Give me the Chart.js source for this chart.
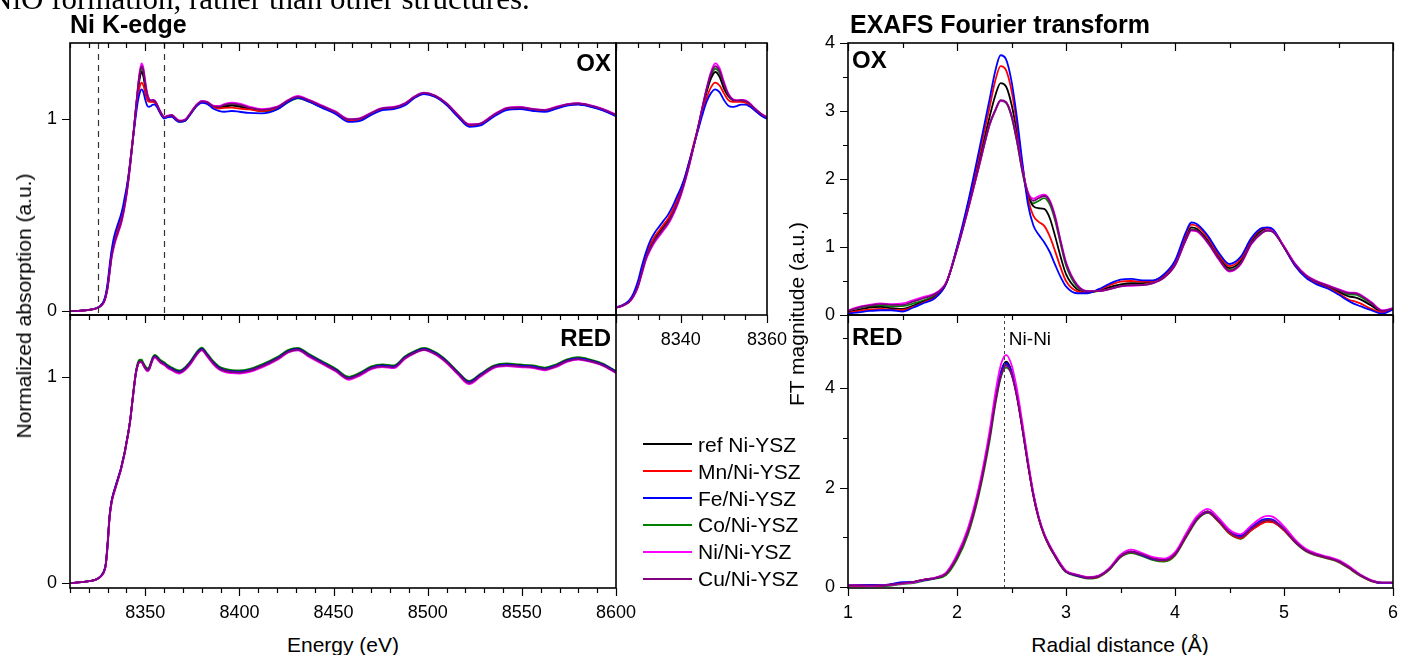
<!DOCTYPE html>
<html>
<head>
<meta charset="utf-8">
<title>Ni K-edge XANES and EXAFS Fourier transform</title>
<script src="https://cdn.jsdelivr.net/npm/chart.js@4.4.1/dist/chart.umd.min.js"></script>
<style>
html,body{margin:0;padding:0;background:#fff;}
body{position:relative;width:1401px;height:655px;overflow:hidden;font-family:"Liberation Sans",Arial,sans-serif;color:#000;}
canvas{position:absolute;}
.txt{position:absolute;white-space:nowrap;line-height:0;color:#000;}
</style>
</head>
<body>
<script>
// ---------------- DATA ----------------
const seriesNames  = ['ref Ni-YSZ', 'Mn/Ni-YSZ', 'Fe/Ni-YSZ', 'Co/Ni-YSZ', 'Ni/Ni-YSZ', 'Cu/Ni-YSZ'];
const seriesColors = ['#000000', '#ff0000', '#0000ff', '#008000', '#ff00ff', '#800080'];
const drawOrder    = [4, 3, 2, 5, 1, 0];

// XANES energy grid (eV)
const energy = [
  8310, 8316, 8321, 8324, 8326, 8327, 8328, 8329, 8330, 8331,
  8332, 8333, 8334, 8335, 8336, 8337, 8338, 8339, 8340, 8341,
  8342, 8343, 8344, 8345, 8346, 8347, 8348, 8349, 8350, 8351,
  8352, 8353, 8354, 8355, 8356, 8357, 8358, 8359, 8360,
  8362, 8364, 8366, 8368, 8371, 8374, 8377, 8380, 8383, 8386,
  8389, 8392, 8396, 8400, 8405, 8412, 8420, 8426, 8431, 8437,
  8444, 8451, 8458, 8464, 8470, 8476, 8482, 8488, 8493, 8498,
  8504, 8510, 8516, 8522, 8528, 8535, 8542, 8549, 8556, 8562,
  8568, 8574, 8580, 8586, 8593, 8600
];

// OX XANES
const xanesOxRef = [
  0.000, 0.003, 0.008, 0.015, 0.025, 0.035, 0.05, 0.08, 0.13, 0.21,
  0.29, 0.34, 0.38, 0.41, 0.44, 0.47, 0.51, 0.56, 0.62, 0.69,
  0.77, 0.86, 0.95, 1.05, 1.14, 1.21, 1.245, 1.22, 1.16, 1.12,
  1.10, 1.095, 1.095, 1.09, 1.075, 1.055, 1.035, 1.02, 1.01,
  1.015, 1.02, 1.005, 0.99, 0.995, 1.03, 1.07, 1.09, 1.085, 1.065,
  1.06, 1.065, 1.07, 1.065, 1.055, 1.045, 1.06, 1.095, 1.115, 1.095,
  1.065, 1.035, 0.997, 1.0, 1.03, 1.055, 1.06, 1.08, 1.115, 1.135,
  1.12, 1.08, 1.02, 0.97, 0.975, 1.02, 1.055, 1.06, 1.05, 1.045,
  1.06, 1.075, 1.08, 1.07, 1.05, 1.02
];
const xanesOxMn = [
  0.000, 0.003, 0.008, 0.015, 0.025, 0.035, 0.05, 0.08, 0.135, 0.215,
  0.30, 0.35, 0.39, 0.42, 0.45, 0.48, 0.52, 0.57, 0.63, 0.70,
  0.78, 0.87, 0.95, 1.04, 1.11, 1.165, 1.19, 1.175, 1.135, 1.10,
  1.09, 1.09, 1.09, 1.085, 1.07, 1.05, 1.03, 1.015, 1.007,
  1.013, 1.018, 1.003, 0.99, 0.993, 1.028, 1.068, 1.09, 1.083, 1.062,
  1.055, 1.058, 1.06, 1.055, 1.05, 1.042, 1.058, 1.095, 1.112, 1.093,
  1.062, 1.032, 0.993, 0.998, 1.028, 1.053, 1.058, 1.078, 1.113, 1.133,
  1.118, 1.078, 1.018, 0.967, 0.973, 1.018, 1.053, 1.058, 1.048, 1.043,
  1.058, 1.073, 1.078, 1.068, 1.048, 1.018
];
const xanesOxFe = [
  0.000, 0.003, 0.008, 0.016, 0.027, 0.038, 0.055, 0.09, 0.15, 0.235,
  0.31, 0.37, 0.41, 0.44, 0.47, 0.50, 0.54, 0.59, 0.64, 0.70,
  0.78, 0.86, 0.94, 1.02, 1.09, 1.135, 1.155, 1.14, 1.10, 1.07,
  1.063, 1.068, 1.075, 1.075, 1.065, 1.048, 1.03, 1.013, 1.003,
  1.01, 1.012, 0.997, 0.985, 0.99, 1.025, 1.065, 1.085, 1.078, 1.055,
  1.043, 1.038, 1.042, 1.038, 1.032, 1.03, 1.05, 1.09, 1.11, 1.09,
  1.058, 1.027, 0.985, 0.99, 1.022, 1.047, 1.052, 1.072, 1.11, 1.13,
  1.115, 1.073, 1.012, 0.96, 0.967, 1.012, 1.047, 1.052, 1.042, 1.037,
  1.053, 1.07, 1.075, 1.065, 1.045, 1.015
];
const xanesOxCo = [
  0.000, 0.003, 0.008, 0.015, 0.025, 0.034, 0.048, 0.078, 0.127, 0.205,
  0.285, 0.335, 0.375, 0.405, 0.435, 0.465, 0.505, 0.555, 0.615, 0.685,
  0.77, 0.86, 0.955, 1.055, 1.15, 1.225, 1.262, 1.24, 1.175, 1.125,
  1.10, 1.095, 1.098, 1.092, 1.078, 1.057, 1.037, 1.02, 1.008,
  1.012, 1.017, 1.0, 0.985, 0.99, 1.027, 1.068, 1.09, 1.085, 1.068,
  1.063, 1.07, 1.075, 1.07, 1.055, 1.04, 1.052, 1.088, 1.108, 1.09,
  1.06, 1.03, 0.993, 0.997, 1.027, 1.053, 1.058, 1.078, 1.112, 1.132,
  1.117, 1.077, 1.017, 0.968, 0.973, 1.018, 1.053, 1.058, 1.048, 1.043,
  1.058, 1.073, 1.078, 1.068, 1.048, 1.018
];
const xanesOxNi = [
  0.000, 0.003, 0.008, 0.015, 0.024, 0.033, 0.046, 0.074, 0.12, 0.195,
  0.27, 0.32, 0.36, 0.39, 0.42, 0.45, 0.49, 0.54, 0.60, 0.675,
  0.76, 0.855, 0.955, 1.06, 1.16, 1.245, 1.29, 1.265, 1.195, 1.135,
  1.105, 1.098, 1.1, 1.097, 1.082, 1.06, 1.04, 1.023, 1.012,
  1.018, 1.022, 1.007, 0.993, 0.998, 1.033, 1.073, 1.095, 1.09, 1.07,
  1.068, 1.078, 1.085, 1.08, 1.065, 1.052, 1.065, 1.1, 1.12, 1.1,
  1.07, 1.04, 1.0, 1.005, 1.033, 1.058, 1.063, 1.083, 1.118, 1.138,
  1.123, 1.083, 1.023, 0.973, 0.978, 1.023, 1.058, 1.063, 1.053, 1.048,
  1.063, 1.078, 1.083, 1.073, 1.053, 1.023
];
const xanesOxCu = [
  0.000, 0.003, 0.008, 0.015, 0.024, 0.034, 0.047, 0.076, 0.123, 0.2,
  0.278, 0.328, 0.368, 0.398, 0.428, 0.458, 0.498, 0.548, 0.608, 0.68,
  0.765, 0.857, 0.955, 1.058, 1.155, 1.235, 1.275, 1.252, 1.185, 1.13,
  1.102, 1.096, 1.098, 1.094, 1.08, 1.058, 1.038, 1.021, 1.01,
  1.016, 1.02, 1.005, 0.99, 0.995, 1.03, 1.07, 1.092, 1.087, 1.068,
  1.064, 1.074, 1.08, 1.075, 1.06, 1.048, 1.062, 1.098, 1.117, 1.097,
  1.067, 1.037, 0.998, 1.002, 1.031, 1.056, 1.061, 1.081, 1.116, 1.136,
  1.121, 1.081, 1.021, 0.971, 0.976, 1.021, 1.056, 1.061, 1.051, 1.046,
  1.061, 1.076, 1.081, 1.071, 1.051, 1.021
];

// RED XANES
const xanesRedRef = [
  0.000, 0.004, 0.010, 0.018, 0.030, 0.040, 0.055, 0.09, 0.19, 0.32,
  0.39, 0.43, 0.46, 0.49, 0.52, 0.55, 0.59, 0.63, 0.68, 0.73,
  0.79, 0.87, 0.95, 1.02, 1.06, 1.075, 1.075, 1.06, 1.045, 1.035,
  1.04, 1.065, 1.09, 1.10, 1.095, 1.085, 1.075, 1.07, 1.065,
  1.05, 1.04, 1.03, 1.025, 1.04, 1.07, 1.11, 1.135, 1.105, 1.07,
  1.045, 1.033, 1.027, 1.025, 1.032, 1.055, 1.09, 1.125, 1.135, 1.105,
  1.07, 1.035, 0.995, 1.015, 1.045, 1.055, 1.05, 1.095, 1.12, 1.135,
  1.115, 1.075, 1.02, 0.975, 1.01, 1.05, 1.06, 1.055, 1.05, 1.04,
  1.055, 1.08, 1.09, 1.08, 1.06, 1.025
];
const xanesRedMn = [
  0.000, 0.004, 0.010, 0.018, 0.030, 0.040, 0.056, 0.092, 0.195, 0.322,
  0.392, 0.432, 0.462, 0.492, 0.522, 0.552, 0.592, 0.632, 0.682, 0.732,
  0.792, 0.872, 0.952, 1.02, 1.058, 1.072, 1.072, 1.058, 1.043, 1.033,
  1.038, 1.063, 1.088, 1.098, 1.093, 1.083, 1.073, 1.068, 1.063,
  1.048, 1.038, 1.028, 1.023, 1.038, 1.068, 1.108, 1.132, 1.103, 1.068,
  1.043, 1.031, 1.025, 1.023, 1.03, 1.053, 1.088, 1.123, 1.133, 1.103,
  1.068, 1.033, 0.993, 1.013, 1.043, 1.053, 1.048, 1.093, 1.118, 1.133,
  1.113, 1.073, 1.018, 0.973, 1.008, 1.048, 1.058, 1.053, 1.048, 1.038,
  1.053, 1.078, 1.088, 1.078, 1.058, 1.023
];
const xanesRedFe = [
  0.000, 0.004, 0.010, 0.018, 0.031, 0.042, 0.058, 0.095, 0.2, 0.325,
  0.395, 0.435, 0.465, 0.495, 0.525, 0.555, 0.594, 0.634, 0.683, 0.733,
  0.792, 0.87, 0.948, 1.018, 1.058, 1.073, 1.073, 1.058, 1.043, 1.034,
  1.04, 1.064, 1.089, 1.099, 1.094, 1.084, 1.074, 1.069, 1.064,
  1.049, 1.039, 1.029, 1.024, 1.039, 1.069, 1.109, 1.134, 1.104, 1.069,
  1.044, 1.032, 1.026, 1.024, 1.031, 1.054, 1.089, 1.124, 1.134, 1.104,
  1.069, 1.034, 0.994, 1.014, 1.044, 1.054, 1.049, 1.094, 1.119, 1.134,
  1.114, 1.074, 1.019, 0.974, 1.009, 1.049, 1.059, 1.054, 1.049, 1.039,
  1.054, 1.079, 1.089, 1.079, 1.059, 1.024
];
const xanesRedCo = [
  0.000, 0.004, 0.010, 0.018, 0.030, 0.040, 0.055, 0.088, 0.188, 0.318,
  0.39, 0.43, 0.46, 0.49, 0.52, 0.552, 0.592, 0.633, 0.683, 0.734,
  0.795, 0.876, 0.956, 1.027, 1.068, 1.083, 1.083, 1.068, 1.052, 1.042,
  1.047, 1.072, 1.097, 1.107, 1.102, 1.092, 1.082, 1.077, 1.071,
  1.056, 1.046, 1.036, 1.031, 1.046, 1.077, 1.117, 1.142, 1.112, 1.077,
  1.052, 1.04, 1.033, 1.031, 1.038, 1.061, 1.096, 1.131, 1.141, 1.111,
  1.076, 1.041, 1.001, 1.021, 1.051, 1.061, 1.056, 1.1, 1.125, 1.14,
  1.12, 1.08, 1.025, 0.98, 1.015, 1.055, 1.065, 1.06, 1.055, 1.045,
  1.06, 1.085, 1.095, 1.085, 1.064, 1.028
];
const xanesRedNi = [
  0.000, 0.004, 0.010, 0.017, 0.028, 0.038, 0.052, 0.085, 0.18, 0.31,
  0.382, 0.423, 0.454, 0.485, 0.515, 0.546, 0.586, 0.626, 0.676, 0.727,
  0.787, 0.866, 0.946, 1.015, 1.055, 1.07, 1.07, 1.055, 1.038, 1.027,
  1.033, 1.058, 1.083, 1.093, 1.088, 1.078, 1.068, 1.062, 1.057,
  1.042, 1.032, 1.022, 1.016, 1.032, 1.062, 1.102, 1.128, 1.097, 1.062,
  1.037, 1.024, 1.018, 1.016, 1.023, 1.046, 1.082, 1.118, 1.128, 1.097,
  1.062, 1.027, 0.986, 1.006, 1.037, 1.047, 1.042, 1.088, 1.114, 1.13,
  1.108, 1.067, 1.012, 0.965, 1.0, 1.042, 1.052, 1.047, 1.042, 1.032,
  1.047, 1.073, 1.084, 1.074, 1.054, 1.018
];
const xanesRedCu = [
  0.000, 0.004, 0.010, 0.018, 0.029, 0.039, 0.054, 0.088, 0.186, 0.316,
  0.387, 0.428, 0.458, 0.488, 0.518, 0.549, 0.589, 0.629, 0.679, 0.729,
  0.79, 0.869, 0.949, 1.018, 1.058, 1.073, 1.073, 1.058, 1.042, 1.031,
  1.037, 1.062, 1.087, 1.097, 1.092, 1.082, 1.072, 1.066, 1.061,
  1.046, 1.036, 1.026, 1.021, 1.036, 1.066, 1.106, 1.131, 1.101, 1.066,
  1.041, 1.029, 1.023, 1.021, 1.028, 1.051, 1.086, 1.121, 1.131, 1.101,
  1.066, 1.031, 0.991, 1.011, 1.041, 1.051, 1.046, 1.091, 1.116, 1.131,
  1.111, 1.071, 1.016, 0.97, 1.005, 1.046, 1.056, 1.051, 1.046, 1.036,
  1.051, 1.076, 1.086, 1.076, 1.056, 1.021
];

// EXAFS radial grid (Angstrom)
const radial = [
  1.0, 1.1, 1.2, 1.3, 1.4, 1.5, 1.6, 1.7, 1.8, 1.9,
  2.0, 2.1, 2.2, 2.3, 2.35, 2.4, 2.45, 2.5, 2.55, 2.6,
  2.65, 2.7, 2.75, 2.8, 2.85, 2.9, 2.95, 3.0, 3.1, 3.2,
  3.3, 3.4, 3.5, 3.6, 3.7, 3.8, 3.9, 4.0, 4.1, 4.15,
  4.2, 4.3, 4.4, 4.5, 4.6, 4.7, 4.8, 4.85, 4.9, 5.0,
  5.1, 5.2, 5.3, 5.4, 5.5, 5.6, 5.65, 5.7, 5.8, 5.9,
  6.0
];

// OX FT magnitude
const ftOxRef = [
  0.04, 0.08, 0.11, 0.12, 0.10, 0.09, 0.14, 0.20, 0.27, 0.46,
  0.98, 1.58, 2.25, 2.92, 3.22, 3.41, 3.36, 3.10, 2.68, 2.16,
  1.78, 1.60, 1.57, 1.56, 1.43, 1.16, 0.86, 0.60, 0.38, 0.33,
  0.36, 0.41, 0.45, 0.47, 0.47, 0.50, 0.58, 0.76, 1.15, 1.29,
  1.27, 1.10, 0.86, 0.69, 0.79, 1.09, 1.25, 1.27, 1.24, 1.0,
  0.74, 0.57, 0.48, 0.42, 0.34, 0.27, 0.26, 0.23, 0.14, 0.05,
  0.09
];
const ftOxMn = [
  0.03, 0.06, 0.08, 0.09, 0.08, 0.07, 0.12, 0.19, 0.26, 0.46,
  0.99, 1.62, 2.33, 3.06, 3.44, 3.66, 3.6, 3.3, 2.8, 2.2,
  1.72, 1.46, 1.37, 1.31, 1.16, 0.94, 0.70, 0.50, 0.35, 0.33,
  0.37, 0.44, 0.49, 0.50, 0.49, 0.50, 0.59, 0.78, 1.19, 1.33,
  1.31, 1.14, 0.89, 0.72, 0.82, 1.11, 1.27, 1.28, 1.25, 1.0,
  0.73, 0.56, 0.46, 0.40, 0.32, 0.22, 0.20, 0.17, 0.09, 0.04,
  0.08
];
const ftOxFe = [
  0.02, 0.04, 0.06, 0.07, 0.07, 0.05, 0.11, 0.18, 0.25, 0.46,
  1.0, 1.65, 2.4, 3.18, 3.58, 3.82, 3.76, 3.44, 2.9, 2.24,
  1.64, 1.32, 1.18, 1.07, 0.93, 0.74, 0.56, 0.42, 0.32, 0.32,
  0.38, 0.46, 0.52, 0.53, 0.51, 0.51, 0.60, 0.80, 1.22, 1.36,
  1.34, 1.17, 0.92, 0.75, 0.85, 1.13, 1.28, 1.29, 1.26, 1.0,
  0.73, 0.55, 0.45, 0.39, 0.30, 0.20, 0.16, 0.13, 0.07, 0.02,
  0.08
];
const ftOxCo = [
  0.06, 0.11, 0.13, 0.14, 0.13, 0.13, 0.17, 0.22, 0.29, 0.47,
  0.97, 1.55, 2.18, 2.8, 3.0, 3.15, 3.12, 2.92, 2.55, 2.1,
  1.76, 1.64, 1.68, 1.72, 1.63, 1.39, 1.05, 0.73, 0.42, 0.34,
  0.35, 0.39, 0.43, 0.45, 0.45, 0.48, 0.56, 0.74, 1.12, 1.26,
  1.25, 1.08, 0.84, 0.66, 0.76, 1.06, 1.22, 1.24, 1.22, 1.0,
  0.75, 0.58, 0.49, 0.43, 0.36, 0.30, 0.30, 0.27, 0.17, 0.06,
  0.09
];
const ftOxNi = [
  0.07, 0.12, 0.15, 0.17, 0.16, 0.17, 0.22, 0.27, 0.32, 0.48,
  0.96, 1.54, 2.17, 2.8, 3.0, 3.15, 3.13, 2.94, 2.58, 2.14,
  1.81, 1.71, 1.75, 1.77, 1.69, 1.46, 1.10, 0.78, 0.45, 0.35,
  0.35, 0.38, 0.42, 0.43, 0.44, 0.47, 0.55, 0.73, 1.1, 1.24,
  1.23, 1.06, 0.82, 0.64, 0.74, 1.04, 1.21, 1.25, 1.23, 1.01,
  0.76, 0.59, 0.50, 0.44, 0.38, 0.33, 0.33, 0.30, 0.19, 0.07,
  0.10
];
const ftOxCu = [
  0.06, 0.11, 0.14, 0.16, 0.15, 0.15, 0.2, 0.25, 0.31, 0.47,
  0.96, 1.55, 2.18, 2.81, 3.01, 3.16, 3.13, 2.93, 2.56, 2.12,
  1.79, 1.68, 1.72, 1.75, 1.67, 1.43, 1.08, 0.76, 0.44, 0.35,
  0.35, 0.38, 0.42, 0.44, 0.44, 0.47, 0.55, 0.73, 1.11, 1.25,
  1.24, 1.07, 0.83, 0.65, 0.75, 1.05, 1.21, 1.24, 1.22, 1.0,
  0.75, 0.58, 0.49, 0.43, 0.37, 0.32, 0.32, 0.29, 0.18, 0.06,
  0.09
];

// RED FT magnitude
const ftRedRef = [
  0.03, 0.03, 0.03, 0.03, 0.05, 0.08, 0.10, 0.15, 0.18, 0.27,
  0.6, 1.12, 1.92, 3.05, 3.75, 4.3, 4.53, 4.35, 3.88, 3.22,
  2.5, 1.86, 1.38, 1.05, 0.82, 0.63, 0.45, 0.32, 0.24, 0.19,
  0.22, 0.37, 0.62, 0.71, 0.65, 0.57, 0.54, 0.66, 1.02, 1.2,
  1.37, 1.52, 1.34, 1.10, 1.0, 1.17, 1.32, 1.35, 1.33, 1.16,
  0.92, 0.74, 0.65, 0.59, 0.52, 0.39, 0.31, 0.24, 0.13, 0.09,
  0.09
];
const ftRedMn = [
  0.02, 0.02, 0.02, 0.03, 0.05, 0.08, 0.1, 0.15, 0.18, 0.27,
  0.6, 1.11, 1.91, 3.03, 3.72, 4.26, 4.47, 4.29, 3.83, 3.18,
  2.47, 1.84, 1.37, 1.04, 0.81, 0.62, 0.44, 0.31, 0.23, 0.18,
  0.21, 0.36, 0.61, 0.7, 0.64, 0.56, 0.53, 0.65, 1.01, 1.19,
  1.36, 1.5, 1.32, 1.08, 0.98, 1.14, 1.28, 1.31, 1.3, 1.14,
  0.91, 0.73, 0.64, 0.58, 0.51, 0.38, 0.3, 0.23, 0.12, 0.08,
  0.08
];
const ftRedFe = [
  0.03, 0.04, 0.04, 0.04, 0.06, 0.1, 0.1, 0.14, 0.18, 0.28,
  0.62, 1.14, 1.95, 3.07, 3.76, 4.29, 4.5, 4.32, 3.86, 3.2,
  2.5, 1.87, 1.4, 1.07, 0.83, 0.63, 0.45, 0.31, 0.23, 0.19,
  0.22, 0.37, 0.62, 0.71, 0.64, 0.56, 0.54, 0.67, 1.03, 1.21,
  1.37, 1.51, 1.34, 1.11, 1.03, 1.2, 1.35, 1.37, 1.35, 1.17,
  0.92, 0.74, 0.65, 0.59, 0.52, 0.39, 0.31, 0.24, 0.13, 0.08,
  0.08
];
const ftRedCo = [
  0.02, 0.02, 0.02, 0.02, 0.03, 0.06, 0.08, 0.13, 0.17, 0.24,
  0.55, 1.05, 1.85, 2.95, 3.65, 4.2, 4.41, 4.28, 3.85, 3.2,
  2.5, 1.86, 1.38, 1.04, 0.8, 0.61, 0.43, 0.3, 0.22, 0.17,
  0.2, 0.35, 0.6, 0.68, 0.62, 0.54, 0.51, 0.63, 0.99, 1.17,
  1.34, 1.49, 1.31, 1.07, 0.97, 1.14, 1.3, 1.33, 1.31, 1.14,
  0.9, 0.72, 0.63, 0.57, 0.5, 0.37, 0.29, 0.22, 0.12, 0.08,
  0.08
];
const ftRedNi = [
  0.03, 0.03, 0.02, 0.03, 0.04, 0.07, 0.09, 0.15, 0.19, 0.29,
  0.65, 1.18, 2.0, 3.15, 3.88, 4.45, 4.67, 4.47, 3.98, 3.3,
  2.56, 1.9, 1.41, 1.07, 0.84, 0.65, 0.47, 0.33, 0.25, 0.2,
  0.23, 0.39, 0.65, 0.75, 0.68, 0.6, 0.57, 0.7, 1.07, 1.26,
  1.42, 1.57, 1.39, 1.15, 1.06, 1.24, 1.4, 1.43, 1.41, 1.22,
  0.96, 0.77, 0.67, 0.61, 0.54, 0.41, 0.33, 0.25, 0.14, 0.09,
  0.09
];
const ftRedCu = [
  0.03, 0.03, 0.03, 0.03, 0.05, 0.08, 0.1, 0.15, 0.18, 0.27,
  0.6, 1.11, 1.91, 3.02, 3.7, 4.23, 4.45, 4.28, 3.82, 3.18,
  2.48, 1.85, 1.38, 1.05, 0.82, 0.63, 0.45, 0.31, 0.24, 0.19,
  0.22, 0.37, 0.62, 0.71, 0.65, 0.57, 0.54, 0.66, 1.02, 1.2,
  1.37, 1.52, 1.34, 1.1, 1.0, 1.17, 1.32, 1.35, 1.33, 1.16,
  0.92, 0.74, 0.65, 0.59, 0.52, 0.39, 0.31, 0.24, 0.13, 0.09,
  0.09
];

// tick labels and markers
const xanesXLabels = [8350, 8400, 8450, 8500, 8550, 8600];
const insetXLabels = [8340, 8360];
const xanesYLabels = [0, 1];
const radialLabels = [1, 2, 3, 4, 5, 6];
const ftOxYLabels  = [0, 1, 2, 3, 4];
const ftRedYLabels = [0, 2, 4];
const insetRange   = [8325, 8360];   // dashed lines in the OX XANES panel
const niNiDistance = 2.43;
const niNiLabel    = 'Ni-Ni';

// ---------------- RENDERING ----------------
const FONT = '"Liberation Sans", Arial, Helvetica, sans-serif';
Chart.defaults.font.family = FONT;
Chart.defaults.color = '#000';

const framePlugin = {
  id: 'frame',
  afterDatasetsDraw(chart, args, o) {
    const ctx = chart.ctx, a = chart.chartArea, xs = chart.scales.x, ys = chart.scales.y;
    ctx.save();
    if (o.markers) {
      ctx.setLineDash(o.markerDash);
      ctx.lineWidth = o.markerWidth;
      ctx.strokeStyle = o.markerColor;
      o.markers.forEach(v => {
        const p = Math.round(xs.getPixelForValue(v)) + 0.5;
        ctx.beginPath(); ctx.moveTo(p, a.top); ctx.lineTo(p, a.bottom); ctx.stroke();
      });
      ctx.setLineDash([]);
      if (o.markerLabel) {
        ctx.fillStyle = '#000';
        ctx.font = '19px ' + FONT;
        ctx.textAlign = 'left';
        ctx.textBaseline = 'alphabetic';
        ctx.fillText(o.markerLabel, xs.getPixelForValue(o.markers[0]) + 5, a.top + 30);
      }
    }
    const ticksAt = (scale, step) => {
      const out = [];
      if (!step) return out;
      const n0 = Math.ceil(scale.min / step - 1e-6), n1 = Math.floor(scale.max / step + 1e-6);
      for (let n = n0; n <= n1; n++) out.push(n * step);
      return out;
    };
    ctx.strokeStyle = '#000';
    ctx.lineWidth = 1.2;
    ctx.beginPath();
    const xLines = (step, len) => ticksAt(xs, step).forEach(v => {
      const p = Math.round(xs.getPixelForValue(v)) + 0.5;
      if (o.top) { ctx.moveTo(p, a.top); ctx.lineTo(p, a.top + len); }
      if (o.bottom) { ctx.moveTo(p, a.bottom); ctx.lineTo(p, a.bottom + len); }
    });
    xLines(o.xMinor, 5); xLines(o.xMajor, 8);
    if (o.yTicks) {
      const yLines = (step, len) => ticksAt(ys, step).forEach(v => {
        const p = Math.round(ys.getPixelForValue(v)) + 0.5;
        ctx.moveTo(a.left - len, p); ctx.lineTo(a.left, p);
      });
      yLines(o.yMinor, 5); yLines(o.yMajor, 8);
    }
    ctx.stroke();
    ctx.lineWidth = 1.6;
    ctx.strokeRect(a.left, a.top, a.right - a.left, a.bottom - a.top);
    ctx.restore();
  }
};

function makePanel(p) {
  const c = document.createElement('canvas');
  c.width = p.w; c.height = p.h;
  c.style.left = p.left + 'px'; c.style.top = p.top + 'px';
  c.style.width = p.w + 'px'; c.style.height = p.h + 'px';
  document.body.appendChild(c);
  const [al, at, ar, ab] = p.area;
  const yW = al - p.left, xH = p.top + p.h - ab;
  new Chart(c, {
    type: 'line',
    data: {
      datasets: p.ys.map((arr, i) => ({
        label: seriesNames[i],
        data: p.xs.map((x, j) => ({ x: x, y: arr[j] })),
        borderColor: seriesColors[i],
        backgroundColor: seriesColors[i],
        borderWidth: 1.8,
        pointRadius: 0,
        fill: false,
        cubicInterpolationMode: 'monotone',
        order: drawOrder[i]
      }))
    },
    options: {
      responsive: false,
      animation: false,
      devicePixelRatio: 1,
      events: [],
      layout: { padding: { left: 0, top: at - p.top, right: p.left + p.w - ar, bottom: 0 }, autoPadding: false },
      plugins: { legend: { display: false }, tooltip: { enabled: false }, frame: p.frame },
      scales: {
        x: {
          type: 'linear', min: p.xMin, max: p.xMax,
          grid: { display: false, drawTicks: false },
          border: { display: false },
          ticks: { display: p.showX, font: { size: 18 }, color: '#000', padding: 14,
                   maxRotation: 0, autoSkip: false, callback: v => String(v) },
          afterBuildTicks: s => { s.ticks = p.xLabels.map(v => ({ value: v })); },
          afterFit: s => { s.height = xH; s.paddingLeft = 0; s.paddingRight = 0; s.paddingTop = 0; s.paddingBottom = 0; }
        },
        y: {
          type: 'linear', min: p.yMin, max: p.yMax,
          grid: { display: false, drawTicks: false },
          border: { display: false },
          ticks: { display: p.showY, font: { size: 18 }, color: '#000', padding: 13,
                   autoSkip: false, callback: v => String(v) },
          afterBuildTicks: s => { s.ticks = p.yLabels.map(v => ({ value: v })); },
          afterFit: s => { s.width = yW; s.paddingLeft = 0; s.paddingRight = 0; s.paddingTop = 0; s.paddingBottom = 0; }
        }
      }
    },
    plugins: [framePlugin]
  });
}

const oxXanes  = [xanesOxRef, xanesOxMn, xanesOxFe, xanesOxCo, xanesOxNi, xanesOxCu];
const redXanes = [xanesRedRef, xanesRedMn, xanesRedFe, xanesRedCo, xanesRedNi, xanesRedCu];
const oxFt     = [ftOxRef, ftOxMn, ftOxFe, ftOxCo, ftOxNi, ftOxCu];
const redFt    = [ftRedRef, ftRedMn, ftRedFe, ftRedCo, ftRedNi, ftRedCu];

// XANES OX
makePanel({ left: 0, top: 0, w: 640, h: 330, area: [70, 43, 616, 315],
  xs: energy, ys: oxXanes, xMin: 8310, xMax: 8600, yMin: -0.02, yMax: 1.396,
  xLabels: xanesXLabels, yLabels: xanesYLabels, showX: false, showY: true,
  frame: { top: true, bottom: false, xMinor: 10, xMajor: 50, yTicks: true, yMajor: 1,
           markers: insetRange, markerDash: [6, 5], markerWidth: 1.2, markerColor: '#333' } });
// XANES RED
makePanel({ left: 0, top: 300, w: 640, h: 330, area: [70, 315, 616, 588],
  xs: energy, ys: redXanes, xMin: 8310, xMax: 8600, yMin: -0.024, yMax: 1.30,
  xLabels: xanesXLabels, yLabels: xanesYLabels, showX: true, showY: true,
  frame: { top: true, bottom: true, xMinor: 10, xMajor: 50, yTicks: true, yMajor: 1 } });
// XANES OX inset
makePanel({ left: 600, top: 0, w: 205, h: 360, area: [616, 43, 767, 315],
  xs: energy, ys: oxXanes, xMin: insetRange[0], xMax: insetRange[1], yMin: -0.02, yMax: 1.396,
  xLabels: insetXLabels, yLabels: xanesYLabels, showX: true, showY: false,
  frame: { top: true, bottom: true, xMinor: 5, xMajor: 20, yTicks: false } });
// FT OX
makePanel({ left: 780, top: 0, w: 621, h: 330, area: [848, 43, 1393, 315],
  xs: radial, ys: oxFt, xMin: 1, xMax: 6, yMin: 0, yMax: 4,
  xLabels: radialLabels, yLabels: ftOxYLabels, showX: false, showY: true,
  frame: { top: true, bottom: false, xMinor: 0.5, xMajor: 1, yTicks: true, yMajor: 1, yMinor: 0.5 } });
// FT RED
makePanel({ left: 780, top: 300, w: 621, h: 330, area: [848, 315, 1393, 588],
  xs: radial, ys: redFt, xMin: 1, xMax: 6, yMin: -0.02, yMax: 5.47,
  xLabels: radialLabels, yLabels: ftRedYLabels, showX: true, showY: true,
  frame: { top: true, bottom: true, xMinor: 0.5, xMajor: 1, yTicks: true, yMajor: 2, yMinor: 1,
           markers: [niNiDistance], markerDash: [3, 3], markerWidth: 1, markerColor: '#444',
           markerLabel: niNiLabel } });

// ---------------- HTML TEXT ----------------
function addText(txt, x, baseline, size, opts) {
  opts = opts || {};
  const d = document.createElement('div');
  d.className = 'txt';
  d.textContent = txt;
  const k = opts.serif ? 0.3375 : 0.3465;
  d.style.fontFamily = opts.serif ? '"Liberation Serif", "Times New Roman", serif' : FONT;
  d.style.fontSize = size + 'px';
  d.style.fontWeight = opts.bold ? 'bold' : 'normal';
  d.style.top = (baseline - k * size) + 'px';
  d.style.left = x + 'px';
  if (opts.align === 'right') d.style.transform = 'translateX(-100%)';
  if (opts.align === 'center') d.style.transform = 'translateX(-50%)';
  document.body.appendChild(d);
  return d;
}
function addVText(txt, cx, cy, size) {
  const d = document.createElement('div');
  d.className = 'txt';
  d.textContent = txt;
  d.style.fontFamily = FONT;
  d.style.fontSize = size + 'px';
  d.style.left = cx + 'px';
  d.style.top = cy + 'px';
  d.style.transformOrigin = '0 0';
  d.style.transform = 'rotate(-90deg) translateX(-50%)';
  document.body.appendChild(d);
}

addText('NiO formation, rather than other structures.', -10, 9, 31, { serif: true });
addText('Ni K-edge', 70, 33, 25, { bold: true });
addText('EXAFS Fourier transform', 850, 33, 25, { bold: true });
addText('OX', 611, 71, 24, { bold: true, align: 'right' });
addText('RED', 611, 346, 24, { bold: true, align: 'right' });
addText('OX', 852, 68, 24, { bold: true });
addText('RED', 852, 345, 24, { bold: true });
addText('Energy (eV)', 343, 652, 21, { align: 'center' });
addText('Radial distance (\u00c5)', 1120, 652, 21, { align: 'center' });
addVText('Normalized absorption (a.u.)', 24, 306, 21);
addVText('FT magnitude (a.u.)', 797, 314, 21);

// legend
seriesNames.forEach((name, i) => {
  const yLine = 444 + i * 26.9;
  const ln = document.createElement('div');
  ln.style.cssText = 'position:absolute;left:643px;width:49px;height:2px;top:' + (yLine - 1) + 'px;background:' + seriesColors[i] + ';';
  document.body.appendChild(ln);
  addText(name, 698, yLine + 8, 21);
});
</script>
</body>
</html>
